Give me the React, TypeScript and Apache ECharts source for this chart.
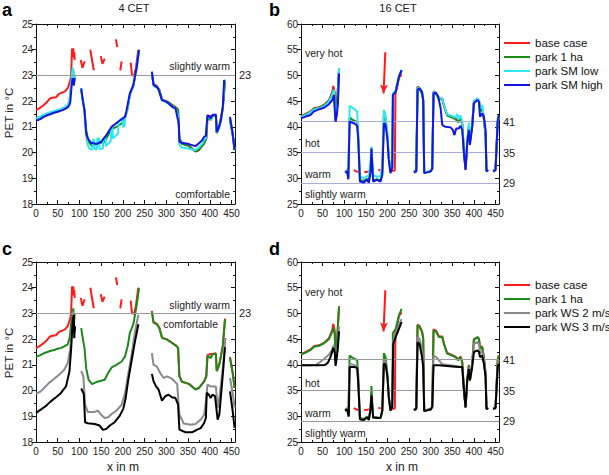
import React, { useEffect, useRef } from "react";
import * as echarts from "echarts";

type P = [number, number | null];

const FONT = '"Liberation Sans", Arial, Helvetica, sans-serif';
const X_MAX = 458;

const C_RED = "#ff1a1a";
const C_GREEN = "#1b8a1b";
const C_CYAN = "#2ce8f0";
const C_BLUE = "#1414e6";
const C_GRAY = "#8a8a8a";
const C_BLACK = "#000000";

// ---------- 4 CET ----------
const base4: P[] = [
  [0, 21.65], [10, 21.75], [18, 21.85], [26, 21.98], [32, 22.1], [38, 22.13], [46, 22.15], [53, 22.28], [60, 22.33], [66, 22.37], [73, 22.5], [77, 22.7], [80, 22.9], [81, 23.1], [83, 24.05], [84.5, 23.7], [86, 24.05], [87, 23.7], [88, 23.9], [89, 23.6], [90, null],
  [103, 23.6], [107, 23.3], [112, 23.55], [115, null],
  [125, 24.0], [129, 23.6], [133, 23.2], [135, null],
  [149, 23.75], [153, 23.45], [158, 23.65], [160, null],
  [184, 24.4], [187, 24.1], [189, null],
  [194, 23.2], [197, 23.55], [199, null],
  [218, 23.5], [221, 23.0], [226, 23.0], [230, 23.3], [235, 23.95], [237, 24.0], [240, null],
  [266.7, 23.1], [270.5, 22.66], [278, 22.6], [283.7, 22.45], [290, 22.06], [301.6, 21.99], [313, 21.86], [321, 21.77], [327, 21.67], [330, 20.56], [336, 20.34], [352, 20.26], [367, 20.05], [375, 20.1], [387, 20.36], [392, 20.56], [394.6, 21.38], [402, 21.42], [406, 21.42], [414, 21.45], [416, 20.76], [422, 21.02], [430, 21.75], [435, 22.8], [438, null],
  [446.5, 21.3], [452.7, 20.7], [457, 20.1],
];

const park4: P[] = [
  [0, 21.31], [10, 21.38], [19, 21.46], [26, 21.5], [34, 21.55], [42, 21.58], [50, 21.63], [58, 21.66], [65, 21.72], [73, 21.8], [77.5, 22.05], [80.6, 22.57], [84.5, 23.02], [86, 23.2], [87.5, 22.6], [89, 23.0], [90, null],
  [104, 22.43], [108, 22.0], [111.6, 21.65], [115.5, 20.87], [121, 20.42], [129, 20.25], [139, 20.33], [150, 20.38], [158, 20.42], [166, 20.68], [174, 20.9], [185, 21.0], [197, 21.13], [205, 21.33], [211, 21.72], [216, 22.24], [224, 22.57], [232, 23.35], [237, 23.97], [240, null],
  [266.7, 23.07], [270.5, 22.64], [278, 22.57], [283.7, 22.44], [290, 22.05], [301.6, 21.98], [313, 21.85], [321, 21.76], [327, 21.66], [330, 20.56], [336, 20.34], [352, 20.26], [367, 20.04], [375, 20.1], [387, 20.36], [392, 20.56], [394.6, 21.34], [402, 21.27], [406, 21.4], [414, 21.43], [416, 20.76], [422, 21.02], [430, 21.73], [435, 22.77], [438, null],
  [446.5, 21.26], [452.7, 20.68], [457, 20.1],
];

const smLow4: P[] = [
  [0, 21.33], [10, 21.4], [18.6, 21.48], [26, 21.52], [34, 21.58], [42, 21.62], [50, 21.66], [58, 21.7], [65, 21.76], [73, 21.85], [77, 22.0], [80, 22.5], [83, 23.1], [85, 23.3], [87, 22.8], [89, 23.05], [90, null],
  [104, 22.5], [108, 22.0], [111.6, 21.65], [115, 20.7], [119, 20.3], [123, 20.15], [130, 20.12], [131, 20.5], [134, 20.5], [135, 20.15], [140, 20.12], [141, 20.55], [145, 20.55], [146, 20.15], [154, 20.15], [155, 20.55], [160, 20.6], [161, 20.25], [172, 20.45], [173, 20.9], [176, 20.95], [177, 20.55], [189, 20.75], [190, 21.2], [199, 21.35], [200, 21.0], [204, 21.05], [205, 21.45], [209, 21.55], [211, 21.75], [216, 22.25], [224, 22.6], [232, 23.3], [237, 23.95], [240, null],
  [266.7, 23.12], [270.5, 22.6], [276, 22.55], [280.6, 22.5], [283.7, 22.4], [290, 22.02], [299, 21.97], [305, 21.9], [313, 21.8], [321, 21.72], [326, 21.5], [329, 21.1], [330, 20.3], [336, 20.2], [352, 20.15], [367, 20.1], [375, 20.2], [383, 20.35], [387, 20.5], [391, 20.55], [394.6, 21.4], [398, 21.4], [402, 21.3], [406, 21.45], [414, 21.45], [416, 20.78], [420, 20.9], [425.6, 21.22], [430, 21.75], [434, 22.85], [436, null],
  [446.5, 21.35], [452.7, 20.72], [457, 20.1],
];

const smHigh4: P[] = [
  [0, 21.23], [10, 21.3], [18.6, 21.4], [26, 21.45], [34, 21.5], [42, 21.55], [50, 21.59], [58, 21.63], [65, 21.68], [73, 21.76], [77, 21.85], [79, 21.98], [82, 22.6], [84, 22.9], [86, 22.7], [87, 22.63], [89, 22.9], [90, null],
  [104, 22.5], [108, 22.0], [111.6, 21.65], [115.5, 20.75], [119, 20.55], [127, 20.38], [139, 20.33], [150, 20.42], [162, 20.68], [174, 21.0], [189, 21.2], [205, 21.4], [208.5, 21.65], [216, 22.3], [224, 22.63], [232, 23.34], [237, 23.99], [240, null],
  [266.7, 23.15], [270.5, 22.63], [276, 22.56], [280.6, 22.5], [283.7, 22.37], [290, 22.04], [299, 21.98], [305, 21.91], [309, 21.85], [315, 21.76], [321, 21.72], [325, 21.4], [328.7, 21.13], [330, 20.42], [336, 20.38], [352, 20.33], [367, 20.25], [375, 20.36], [383, 20.49], [387, 20.62], [391, 20.64], [394.6, 21.46], [398, 21.42], [402, 21.33], [406, 21.46], [414, 21.48], [416, 20.8], [420, 20.94], [425.6, 21.26], [430, 21.78], [433, 22.82], [436, null],
  [446.5, 21.39], [452.7, 20.75], [457, 20.1],
];

const ws2_4: P[] = [
  [0, 19.87], [11, 19.97], [18.6, 20.1], [30, 20.3], [42, 20.46], [53.5, 20.62], [65, 20.81], [73, 21.07], [79, 21.65], [83, 22.56], [85, 23.07], [87.6, 22.8], [90, null],
  [104, 20.77], [109, 20.55], [113, 19.46], [119, 19.17], [135, 19.17], [142.6, 19.22], [150, 19.06], [158, 18.93], [166, 18.96], [174, 19.09], [185, 19.22], [197, 19.45], [205, 19.9], [212, 20.62], [220, 21.4], [228, 22.3], [235.6, 22.95], [240, null],
  [266.7, 21.46], [270.5, 21.0], [278, 20.94], [286, 20.68], [293.8, 20.49], [301.6, 20.55], [313, 20.46], [325, 20.25], [330, 19.06], [340, 18.72], [356, 18.67], [367, 18.7], [379, 18.87], [387, 19.06], [392, 19.71], [394.6, 20.23], [402, 20.16], [414, 20.16], [418, 19.32], [422, 19.71], [430, 20.88], [436, 22.05], [438, null],
  [446.5, 20.49], [452.7, 19.9], [457, 19.35],
];

const ws3_4: P[] = [
  [0, 19.13], [11, 19.26], [22, 19.39], [34, 19.58], [46, 19.74], [57, 19.9], [69, 20.16], [77, 20.75], [81, 21.65], [84.5, 22.75], [87, 22.94], [88, 22.04], [90, 22.5], [91, null],
  [104, 20.08], [110, 19.87], [113, 18.77], [119, 18.73], [135, 18.7], [146.5, 18.64], [154, 18.47], [162, 18.51], [170, 18.64], [181, 18.77], [193, 19.03], [200.8, 19.29], [206, 19.67], [212, 20.38], [220, 21.16], [228, 21.93], [235.6, 22.58], [240, null],
  [266.7, 20.65], [270.5, 20.37], [276, 20.17], [282, 20.04], [290, 19.61], [297.7, 19.78], [305, 19.84], [313, 19.74], [321, 19.71], [327, 19.45], [330, 18.48], [344, 18.38], [360, 18.38], [371, 18.48], [379, 18.54], [387, 18.74], [391, 18.94], [393, 19.91], [398, 19.84], [402, 19.71], [406, 19.84], [412, 19.78], [418, 18.87], [422, 19.07], [428, 20.23], [435, 21.69], [438, null],
  [446.5, 19.97], [452.7, 19.2], [457, 18.55],
];

// ---------- 16 CET ----------
const base16: P[] = [
  [0, 42.1], [10.8, 42.5], [22, 43.0], [30, 43.6], [41.6, 43.8], [53, 44.25], [64.7, 45.2], [72.4, 46.8], [74.7, 47.95], [77.8, 46.8], [80, 41.3], [82.4, 43.3], [88, 51.4], [90, null],
  [106, 31.8], [110, 31.7], [112, null],
  [122, 31.6], [127, 31.4], [132, 31.2], [134, null],
  [146, 31.3], [151, 31.2], [157, 31.4], [159, null],
  [179, 31.7], [184, 31.5], [186, null],
  [205, 31.4], [217, 31.5], [218.5, 46.5], [222, 47.5], [226.5, 49.5], [233, 50.2], [236, null],
  [261, 31.3], [266.6, 31.5], [269.6, 47.8], [274, 47.6], [280, 46.5], [282.7, 45.2], [285, 31.1], [299.7, 31.4], [303.5, 31.8], [306.6, 46.9], [312.8, 46.6], [319, 45.5], [326.7, 45.5], [330.5, 44.2], [338, 42.3], [350, 41.9], [357.4, 41.6], [364, 41.1], [369, 41.6], [373, 40.6], [377, 35.0], [380.7, 31.8], [384.5, 37.0], [388.3, 40.0], [390.7, 37.0], [396, 40.3], [400, 45.0], [408, 45.3], [411.8, 45.0], [414, 43.4], [419, 43.6], [423, 41.5], [427, 38.3], [429, 31.5], [433, 31.6], [436, null],
  [444.5, 31.5], [450, 31.7], [455, 40.9], [457.6, 41.8],
];

const park16: P[] = [
  [0, 42.0], [10.8, 42.4], [22, 42.9], [30, 43.5], [41.6, 43.7], [53, 44.2], [64.7, 45.0], [72.4, 46.5], [75, 47.2], [78, 46.0], [80, 41.4], [82.4, 43.2], [88, 51.3], [90, null],
  [101.7, 31.3], [107, 31.5], [109.4, 30.0], [112.5, 41.8], [118.6, 41.4], [130, 40.9], [132.5, 37.8], [136.4, 29.6], [145.6, 29.5], [153, 29.9], [157, 29.5], [161, 31.6], [163, 35.9], [165, 32.5], [167, 29.6], [176, 29.8], [184, 29.6], [188, 31.0], [191.8, 42.3], [195.7, 41.5], [200, 38.0], [203, 34.0], [207, 31.3], [211, 32.1], [212.6, 46.2], [219, 47.0], [226.5, 49.6], [232.7, 50.9], [235, null],
  [261, 31.3], [266.6, 31.5], [269.6, 47.7], [274, 47.4], [280, 46.4], [282.7, 45.1], [285, 31.1], [299.7, 31.4], [303.5, 31.8], [306.6, 46.7], [312.8, 46.4], [319, 45.4], [326.7, 45.4], [330.5, 44.1], [338, 42.2], [350, 41.8], [357.4, 41.5], [364, 40.9], [369, 41.5], [373, 40.5], [377, 35.0], [380.7, 31.8], [384.5, 37.0], [388.3, 39.9], [390.7, 37.0], [396, 40.2], [400, 44.9], [408, 45.4], [411.8, 45.1], [414, 43.1], [419, 43.5], [423, 41.5], [427, 38.3], [429, 31.5], [433, 31.6], [436, null],
  [444.5, 31.5], [450, 31.7], [455, 40.9], [457.6, 41.8],
];

const smLow16: P[] = [
  [0, 41.9], [10.8, 42.3], [22, 42.8], [30, 43.4], [41.6, 43.6], [53, 44.0], [64.7, 44.9], [72.4, 46.3], [76, 47.2], [78.6, 43.5], [80, 41.3], [82.4, 42.8], [85.5, 45.0], [88, 51.4], [90, null],
  [101.7, 31.2], [107, 31.4], [109.4, 30.0], [112.5, 44.1], [126, 43.3], [130, 42.95], [132.5, 38.7], [136.4, 30.3], [145.6, 30.0], [153, 30.45], [157, 30.3], [161, 33.55], [163, 36.15], [165, 33.0], [167, 30.6], [176, 30.3], [184, 30.45], [188, 32.3], [191.8, 43.3], [195.7, 42.3], [200, 38.7], [203, 34.2], [207, 31.6], [211, 32.3], [212.6, 46.5], [219, 47.1], [226.5, 49.9], [232.7, 51.1], [235, null],
  [261, 31.2], [266.6, 31.4], [269.6, 47.5], [274, 47.6], [280, 46.8], [282.7, 45.3], [285, 31.1], [299.7, 31.4], [303.5, 31.9], [306.6, 46.8], [312.8, 46.6], [319, 45.6], [326.7, 45.5], [330.5, 44.3], [338, 42.4], [350, 42.1], [357.4, 41.8], [362, 42.5], [364, 41.4], [369, 42.2], [373, 41.0], [377, 35.2], [380.7, 31.9], [384.5, 37.5], [388.3, 40.8], [390.7, 37.5], [396, 40.6], [400, 45.0], [408, 45.5], [411.8, 45.2], [414, 43.5], [419, 44.2], [423, 42.0], [427, 38.5], [429, 31.5], [433, 31.6], [436, null],
  [444.5, 31.4], [450, 31.7], [455, 41.0], [457.6, 42.0],
];

const smHigh16: P[] = [
  [0, 41.66], [10.8, 42.0], [22, 42.3], [30, 43.0], [41.6, 43.4], [53, 43.7], [64.7, 44.4], [72.4, 45.2], [76, 46.2], [78.6, 42.6], [80, 41.0], [82.4, 42.0], [85.5, 44.6], [88, 50.4], [90, null],
  [101.7, 31.1], [107, 31.3], [109.4, 29.8], [112.5, 41.0], [122.5, 40.7], [130, 40.2], [132.5, 37.45], [136.4, 29.35], [145.6, 29.2], [153, 29.7], [157, 29.15], [161, 31.3], [163, 35.8], [165, 32.3], [167, 29.35], [176, 29.7], [184, 29.35], [188, 30.6], [191.8, 40.7], [195.7, 40.4], [200, 37.45], [203, 33.6], [207, 31.0], [211, 32.0], [212.6, 46.2], [219, 46.8], [226.5, 49.75], [232.7, 51.05], [235, null],
  [261, 31.1], [266.6, 31.3], [269.6, 47.2], [274, 47.5], [280, 46.8], [282.7, 45.2], [285, 31.0], [299.7, 31.3], [303.5, 31.9], [306.6, 46.5], [311, 46.65], [317.4, 45.9], [323, 43.6], [326.7, 40.4], [334, 40.0], [346, 39.9], [351.3, 39.4], [355, 38.4], [359, 39.7], [365, 39.7], [369, 40.2], [373, 39.4], [377, 34.85], [380.7, 31.6], [384.5, 36.8], [388.3, 39.4], [390.7, 36.5], [396, 40.0], [400, 44.6], [408, 45.2], [411.8, 44.9], [414, 42.0], [419, 42.6], [423, 42.0], [427, 39.4], [429, 31.3], [433, 31.6], [436, null],
  [444.5, 31.3], [450, 31.6], [455, 41.3], [457.6, 42.3],
];

const ws2_16: P[] = [
  [0, 39.9], [20, 39.9], [35, 40.0], [45, 40.6], [55, 41.3], [65, 42.0], [72, 43.0], [76, 43.9], [78.5, 42.0], [80, 40.2], [82, 41.8], [85, 44.0], [88, 47.5], [90, null],
  [101.7, 31.1], [107, 31.3], [109.4, 29.97], [112.5, 40.2], [122.5, 40.0], [130, 39.7], [132.5, 36.5], [136.4, 29.4], [145.6, 29.3], [153, 29.8], [157, 29.3], [161, 31.5], [163, 34.1], [165, 31.8], [167, 29.8], [176, 29.65], [184, 29.7], [188, 31.1], [191.8, 40.8], [195.7, 40.6], [200, 37.8], [203, 33.8], [207, 31.1], [211, 31.8], [213.4, 44.6], [219, 46.0], [226.5, 47.8], [232.7, 48.9], [235, null],
  [261, 31.2], [266.6, 31.4], [269.6, 45.4], [274, 45.1], [280, 42.8], [282.7, 40.9], [285, 31.0], [299.7, 31.3], [303.5, 31.8], [306.6, 41.8], [312.8, 41.5], [319, 40.9], [326.7, 40.1], [350, 39.9], [365, 39.7], [373, 39.6], [377, 35.0], [380.7, 31.7], [384.5, 37.0], [388.3, 39.5], [390.7, 37.0], [396, 39.9], [400, 44.1], [408, 44.4], [411.8, 44.0], [414, 42.3], [419, 42.6], [423, 40.9], [427, 37.9], [429, 31.4], [433, 31.6], [436, null],
  [444.5, 31.4], [450, 31.6], [455, 40.3], [457.6, 41.0],
];

const ws3_16: P[] = [
  [0, 39.9], [20, 39.9], [40, 39.9], [55, 39.95], [62, 40.4], [68, 41.5], [75, 43.3], [78, 42.5], [80, 39.8], [82, 41.0], [85, 43.0], [88, 46.5], [90, null],
  [101.7, 31.1], [107, 31.3], [110.6, 29.97], [112.5, 39.6], [122.5, 39.6], [130, 39.4], [132.5, 36.3], [136.4, 29.4], [145.6, 29.3], [153, 29.8], [157, 29.3], [161, 31.5], [163, 34.1], [165, 31.8], [167, 29.8], [176, 29.65], [184, 29.7], [188, 31.1], [191.8, 40.2], [195.7, 40.1], [200, 37.6], [203, 33.7], [207, 31.1], [211, 31.8], [213.4, 44.1], [219, 45.4], [226.5, 47.0], [232.7, 48.3], [235, null],
  [261, 31.2], [266.6, 31.4], [269.6, 44.4], [274, 44.1], [280, 41.5], [282.7, 39.6], [285, 31.0], [299.7, 31.3], [303.5, 31.8], [306.6, 39.9], [319, 39.9], [350, 39.7], [365, 39.6], [373, 39.6], [377, 35.0], [380.7, 31.7], [384.5, 37.0], [388.3, 39.2], [390.7, 37.0], [396, 39.6], [400, 42.5], [408, 42.8], [411.8, 42.5], [414, 41.5], [419, 41.8], [423, 40.2], [427, 37.6], [429, 31.4], [433, 31.6], [436, null],
  [444.5, 31.4], [450, 31.6], [455, 39.6], [457.6, 40.2],
];

const refLines4 = [23];
const refLines16 = [41, 35, 29];
const arrowFrom: [number, number] = [195, 54.5];
const arrowTo: [number, number] = [191, 46.5];

const legendSM = ["base case", "park 1 ha", "park SM low", "park SM high"];
const legendWS = ["base case", "park 1 ha", "park WS 2 m/s", "park WS 3 m/s"];

function buildOption() {
  const grids = [
    { left: 36, top: 24, width: 199, height: 180 },
    { left: 301, top: 24, width: 198, height: 180 },
    { left: 36, top: 262, width: 199, height: 180 },
    { left: 301, top: 262, width: 198, height: 180 },
  ];
  const yRanges = [
    [18, 25, 1],
    [25, 60, 5],
    [18, 25, 1],
    [25, 60, 5],
  ];
  const xAxis: any[] = [];
  const yAxis: any[] = [];
  grids.forEach((_, i) => {
    [true, false].forEach((bottom) => {
      xAxis.push({
        type: "value",
        gridIndex: i,
        position: bottom ? "bottom" : "top",
        min: 0,
        max: X_MAX,
        interval: 50,
        axisLine: { show: true, onZero: false, lineStyle: { color: "#111", width: 1 } },
        axisTick: { show: true, inside: true, length: 4, lineStyle: { color: "#111" } },
        minorTick: { show: true, splitNumber: 2, length: 2, lineStyle: { color: "#111" } },
        axisLabel: { show: bottom, fontSize: 10, color: "#222", margin: 4, fontFamily: FONT, showMaxLabel: false },
        splitLine: { show: false },
      });
    });
    const [mn, mx, iv] = yRanges[i];
    [true, false].forEach((left) => {
      yAxis.push({
        type: "value",
        gridIndex: i,
        position: left ? "left" : "right",
        min: mn,
        max: mx,
        interval: iv,
        axisLine: { show: true, onZero: false, lineStyle: { color: "#111", width: 1 } },
        axisTick: { show: true, inside: !left, length: 4, lineStyle: { color: "#111" } },
        minorTick: { show: true, splitNumber: 2, length: 2, lineStyle: { color: "#111" } },
        axisLabel: { show: left, fontSize: 10, color: "#222", margin: 3, fontFamily: FONT },
        splitLine: { show: false },
      });
    });
  });

  const mkSeries = (name: string, data: P[], color: string, g: number, z: number, extra: any = {}) => ({
    type: "line",
    name,
    data,
    xAxisIndex: g * 2,
    yAxisIndex: g * 2,
    showSymbol: false,
    symbol: "none",
    connectNulls: false,
    lineStyle: { color, width: 2 },
    itemStyle: { color },
    z,
    silent: true,
    ...extra,
  });

  const refMark = (vals: number[], color: string, arrow: boolean) => {
    const data: any[] = vals.map((v) => ({ yAxis: v }));
    if (arrow) {
      data.push([
        { coord: arrowFrom, symbol: "none", lineStyle: { color: C_RED, width: 2, type: "solid" }, label: { show: false } },
        { coord: arrowTo, symbol: "arrow", symbolSize: [6, 9], label: { show: false } },
      ]);
    }
    return {
      silent: true,
      symbol: ["none", "none"],
      lineStyle: { color, width: 1, type: "solid" },
      label: { show: true, position: "end", distance: 4, formatter: "{c}", fontSize: 11, color: "#222", fontFamily: FONT },
      emphasis: { disabled: true },
      data,
    };
  };

  const series = [
    mkSeries("base case", base4, C_RED, 0, 2, { markLine: refMark(refLines4, "#9a9a9a", false) }),
    mkSeries("park 1 ha", park4, C_GREEN, 0, 3),
    mkSeries("park SM low", smLow4, C_CYAN, 0, 4),
    mkSeries("park SM high", smHigh4, C_BLUE, 0, 5),

    mkSeries("base case", base16, C_RED, 1, 2, { markLine: refMark(refLines16, "#a7acd9", true) }),
    mkSeries("park 1 ha", park16, C_GREEN, 1, 3),
    mkSeries("park SM low", smLow16, C_CYAN, 1, 4),
    mkSeries("park SM high", smHigh16, C_BLUE, 1, 5),

    mkSeries("base case", base4, C_RED, 2, 2, { markLine: refMark(refLines4, "#9a9a9a", false) }),
    mkSeries("park 1 ha", park4, C_GREEN, 2, 3),
    mkSeries("park WS 2 m/s", ws2_4, C_GRAY, 2, 4),
    mkSeries("park WS 3 m/s", ws3_4, C_BLACK, 2, 5),

    mkSeries("base case", base16, C_RED, 3, 2, { markLine: refMark(refLines16, "#9a9a9a", true) }),
    mkSeries("park 1 ha", park16, C_GREEN, 3, 3),
    mkSeries("park WS 2 m/s", ws2_16, C_GRAY, 3, 4),
    mkSeries("park WS 3 m/s", ws3_16, C_BLACK, 3, 5),
  ];

  const legendBase = {
    orient: "vertical",
    left: 504,
    itemWidth: 26,
    itemHeight: 2,
    itemGap: 0,
    icon: "rect",
    padding: 0,
    selectedMode: false,
    textStyle: { fontSize: 11.5, color: "#111", lineHeight: 14, fontFamily: FONT },
  };

  const txt = (text: string, x: number, y: number, opts: any = {}) => ({
    type: "text",
    x,
    y,
    silent: true,
    rotation: opts.rotation || 0,
    style: {
      text,
      fill: opts.fill || "#222",
      fontSize: opts.fontSize || 10.5,
      fontWeight: opts.fontWeight || "normal",
      fontFamily: FONT,
      align: opts.align || "left",
      verticalAlign: opts.verticalAlign || "middle",
    },
  });

  const graphic = [
    txt("a", 2, 10, { fontSize: 18, fontWeight: "bold", fill: "#000" }),
    txt("b", 269, 10, { fontSize: 18, fontWeight: "bold", fill: "#000" }),
    txt("c", 2, 249, { fontSize: 18, fontWeight: "bold", fill: "#000" }),
    txt("d", 269, 249, { fontSize: 18, fontWeight: "bold", fill: "#000" }),
    txt("4 CET", 134, 8, { fontSize: 11, align: "center" }),
    txt("16 CET", 398, 8, { fontSize: 11, align: "center" }),
    txt("PET in °C", 9, 113, { fontSize: 11.5, align: "center", rotation: Math.PI / 2 }),
    txt("PET in °C", 9, 353, { fontSize: 11.5, align: "center", rotation: Math.PI / 2 }),
    txt("x in m", 123, 467, { fontSize: 12, align: "center" }),
    txt("x in m", 402, 467, { fontSize: 12, align: "center" }),
    txt("slightly warm", 230, 66, { align: "right" }),
    txt("comfortable", 230, 194, { align: "right" }),
    txt("slightly warm", 230, 305, { align: "right" }),
    txt("comfortable", 218, 324, { align: "right" }),
    txt("very hot", 305, 53),
    txt("hot", 305, 143),
    txt("warm", 305, 174),
    txt("slightly warm", 305, 194),
    txt("very hot", 305, 292),
    txt("hot", 305, 383),
    txt("warm", 305, 413),
    txt("slightly warm", 305, 433),
  ];

  return {
    animation: false,
    backgroundColor: "#ffffff",
    textStyle: { fontFamily: FONT },
    grid: grids,
    xAxis,
    yAxis,
    series,
    legend: [
      { ...legendBase, top: 36, data: legendSM },
      { ...legendBase, top: 278, data: legendWS },
    ],
    graphic,
  };
}

export default function App() {
  const ref = useRef<HTMLDivElement>(null);
  useEffect(() => {
    if (!ref.current) return;
    const chart = echarts.init(ref.current, null, { renderer: "svg" });
    chart.setOption(buildOption() as any);
    return () => chart.dispose();
  }, []);
  return (
    <div
      ref={ref}
      style={{ position: "fixed", left: 0, top: 0, width: 609, height: 475, background: "#fff" }}
    />
  );
}
